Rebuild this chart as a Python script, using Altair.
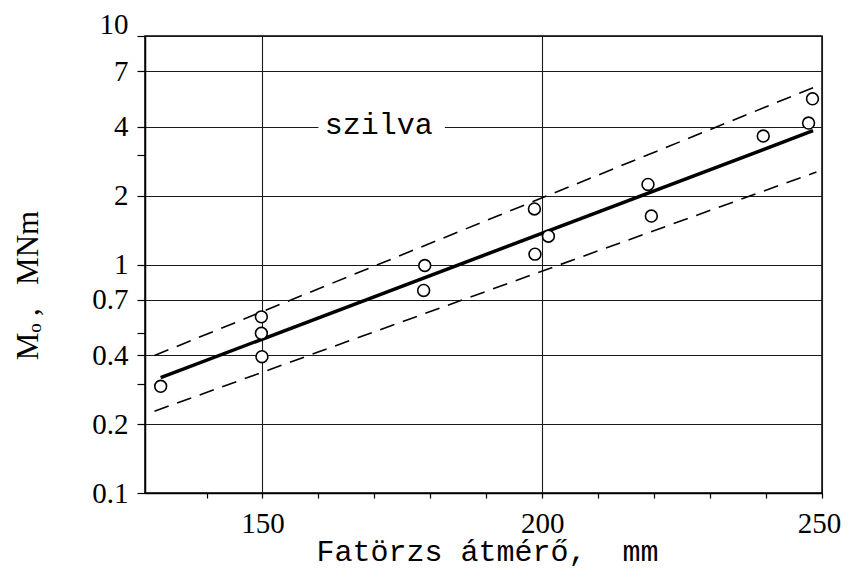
import altair as alt
import pandas as pd

# measured points
x_pts = [131.8, 149.8, 149.8, 149.9, 179.0, 178.8, 198.6, 198.7, 201.1, 218.9, 219.5, 239.5, 247.6, 248.3]
y_pts = [0.293, 0.59, 0.50, 0.395, 0.99, 0.77, 1.75, 1.11, 1.33, 2.24, 1.63, 3.65, 4.16, 5.31]

# regression line and band (end points)
fit_x = [131.8, 248.4]
fit_y = [0.32, 3.85]
upper_x = [130.7, 248.4]
upper_y = [0.40, 5.94]
lower_x = [130.7, 249.0]
lower_y = [0.228, 2.54]

label_text = ["szilva"]
label_x = [170.8]
label_y = [4.0]
box_x = [160.0]
box_x2 = [182.6]
box_y = [3.75]
box_y2 = [4.3]

x_domain = [129, 250]
y_domain = [0.1, 10]
x_ticks = [140, 150, 160, 170, 180, 190, 200, 210, 220, 230, 240, 250]
y_ticks = [0.1, 0.2, 0.3, 0.4, 0.5, 0.7, 1, 2, 3, 4, 7, 10]

NB = "\u00a0"
x_title = "Fatörzs" + NB + "átmérő," + NB + NB + "mm"
y_title = "Mₒ" + NB + "," + NB + NB + NB + "MNm"

pts = pd.DataFrame({"x": x_pts, "y": y_pts})
fit = pd.DataFrame({"x": fit_x, "y": fit_y})
up = pd.DataFrame({"x": upper_x, "y": upper_y})
lo = pd.DataFrame({"x": lower_x, "y": lower_y})
lab = pd.DataFrame({"t": label_text, "x": label_x, "y": label_y})
box = pd.DataFrame({"x": box_x, "x2": box_x2, "y": box_y, "y2": box_y2})

xscale = alt.Scale(domain=x_domain, nice=False, zero=False)
yscale = alt.Scale(type="log", domain=y_domain, nice=False)

SERIF = "Liberation Serif, Times New Roman, serif"
MONO = "Liberation Mono, Courier New, monospace"

xaxis = alt.Axis(
    values=x_ticks,
    title=x_title,
    labelExpr="datum.value % 50 == 0 ? format(datum.value, 'd') : ''",
    grid=True,
    gridColor="#1a1a1a",
    gridWidth=1.1,
    gridOpacity={"condition": {"test": "datum.value % 50 == 0", "value": 1}, "value": 0},
    labelOffset={"condition": {"test": "datum.value == 250", "value": -3}, "value": 0},
    tickSize=5,
    tickColor="black",
    tickWidth=1.2,
    domainColor="black",
    domainWidth=1.5,
    labelFont=SERIF,
    labelFontSize=29,
    labelColor="black",
    labelBaseline="alphabetic",
    labelPadding=34,
    labelOverlap=False,
    labelFlush=False,
    labelBound=False,
    titleFont=MONO,
    titleFontSize=30,
    titleFontWeight="normal",
    titleColor="black",
    titleX=342,
    titleY=67,
    titleAlign="center",
    titleBaseline="alphabetic",
)

yaxis = alt.Axis(
    values=y_ticks,
    title=y_title,
    labelExpr="indexof([0.3, 0.5, 3], datum.value) >= 0 ? '' : format(datum.value, '~g')",
    grid=True,
    gridColor="#1a1a1a",
    gridWidth=1.1,
    gridOpacity={"condition": {"test": "indexof([0.3, 0.5, 3], datum.value) < 0", "value": 1}, "value": 0},
    labelOffset={"condition": {"test": "datum.value == 10", "value": -12}, "value": 0},
    tickSize=8,
    tickColor="black",
    tickWidth=1.2,
    domainColor="black",
    domainWidth=1.5,
    labelFont=SERIF,
    labelFontSize=29,
    labelColor="black",
    labelPadding=9,
    labelOverlap=False,
    labelFlush=False,
    labelBound=False,
    titleFont=SERIF,
    titleFontSize=31,
    titleFontWeight="normal",
    titleColor="black",
    titleAngle=270,
    titleX=-108,
    titleY=249,
    titleAlign="center",
    titleBaseline="alphabetic",
)

X = alt.X("x:Q", scale=xscale, axis=xaxis)
Y = alt.Y("y:Q", scale=yscale, axis=yaxis)

boxes = alt.Chart(box).mark_rect(color="white").encode(
    x=X, x2="x2:Q", y=Y, y2="y2:Q"
)
text = alt.Chart(lab).mark_text(
    font=MONO, fontSize=30, align="center", baseline="alphabetic", dy=7, color="black"
).encode(x=X, y=Y, text="t:N")

fit_line = alt.Chart(fit).mark_line(color="black", strokeWidth=3.5).encode(x=X, y=Y)
up_line = alt.Chart(up).mark_line(color="black", strokeWidth=1.6, strokeDash=[15, 9]).encode(x=X, y=Y)
lo_line = alt.Chart(lo).mark_line(color="black", strokeWidth=1.6, strokeDash=[15, 9]).encode(x=X, y=Y)

points = alt.Chart(pts).mark_point(
    shape="circle", fill="white", stroke="black", strokeWidth=1.6, size=140, opacity=1, fillOpacity=1, filled=True
).encode(x=X, y=Y)

chart = alt.layer(boxes, text, up_line, lo_line, fit_line, points).properties(
    width=677,
    height=457,
    autosize=alt.AutoSizeParams(type="none"),
    padding={"left": 137, "top": 28, "right": 23, "bottom": 77},
    background="white",
).configure_view(stroke="black", strokeWidth=1.5)

chart.save("out.html", embed_options={"renderer": "svg", "actions": False})
